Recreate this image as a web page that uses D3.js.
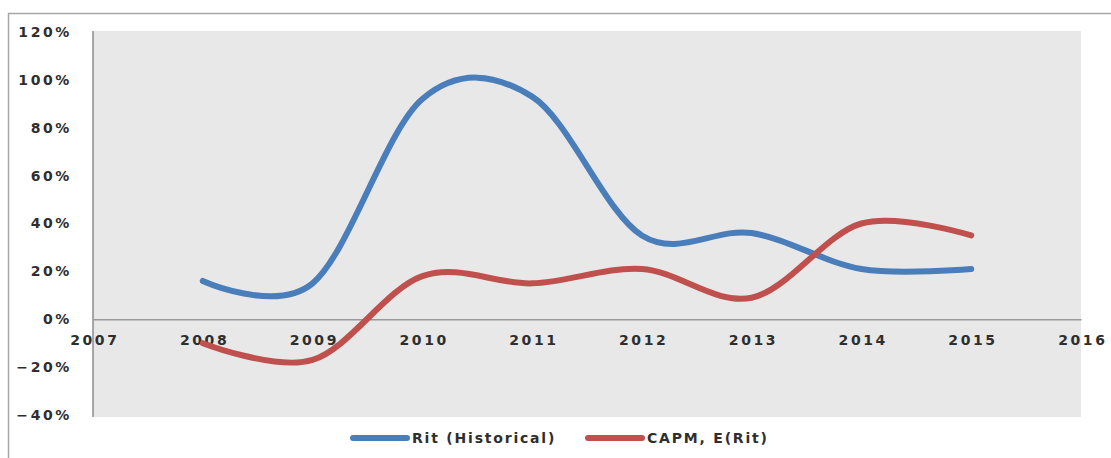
<!DOCTYPE html>
<html>
<head>
<meta charset="utf-8">
<script src="https://cdn.jsdelivr.net/npm/d3@7"></script>
<style>
  body { margin: 0; background: #fff; }
  svg text { font-family: "DejaVu Sans", Verdana, sans-serif; }
</style>
</head>
<body>
<svg id="chart" width="1111" height="458"></svg>
<script>
// data
var years = [2008, 2009, 2010, 2011, 2012, 2013, 2014, 2015];
var ritHistorical = [0.16, 0.15, 0.92, 0.93, 0.35, 0.36, 0.21, 0.21];
var capmExpected = [-0.10, -0.17, 0.18, 0.15, 0.21, 0.09, 0.40, 0.35];
var yTicks = [-0.4, -0.2, 0, 0.2, 0.4, 0.6, 0.8, 1.0, 1.2];
var xTicks = [2007, 2008, 2009, 2010, 2011, 2012, 2013, 2014, 2015, 2016];
var seriesNames = ["Rit (Historical)", "CAPM, E(Rit)"];
var seriesColors = ["#4a7ebb", "#c0504d"];

var svg = d3.select("#chart");
var plot = {left: 93, top: 31, right: 1081, bottom: 417};

var x = d3.scaleLinear().domain([2007, 2016]).range([plot.left, plot.right]);
var y = d3.scaleLinear().domain([-0.4, 1.2]).range([415, 32]);

// chart area border (top + left only visible)
svg.append("path")
    .attr("d", "M8.5,458 L8.5,13.5 L1111,13.5")
    .attr("fill", "none")
    .attr("stroke", "#a6a6a6")
    .attr("stroke-width", 1.5);

// plot background
svg.append("rect")
    .attr("x", plot.left).attr("y", plot.top)
    .attr("width", plot.right - plot.left).attr("height", plot.bottom - plot.top)
    .attr("fill", "#e8e8e8");

// y axis
var yAxis = svg.append("g")
    .attr("transform", "translate(" + plot.left + ",0)")
    .call(d3.axisLeft(y).tickValues(yTicks).tickFormat(d3.format(".0%")).tickSize(0).tickPadding(21));
yAxis.select(".domain").attr("stroke", "#8c8c8c").attr("stroke-width", 1.5)
    .attr("d", "M0," + plot.top + "V" + plot.bottom);
yAxis.selectAll("text")
    .attr("font-size", 14).attr("font-weight", "bold").attr("fill", "#2e2e2e")
    .attr("letter-spacing", 2.6);

// x axis on the zero line
var xAxis = svg.append("g")
    .attr("transform", "translate(0," + y(0) + ")")
    .call(d3.axisBottom(x).tickValues(xTicks).tickFormat(d3.format("d")).tickSize(0).tickPadding(16));
xAxis.select(".domain").attr("stroke", "#999").attr("stroke-width", 1.5);
xAxis.selectAll("text")
    .attr("font-size", 14).attr("font-weight", "bold").attr("fill", "#2e2e2e")
    .attr("letter-spacing", 2.6)
    .attr("dx", 1.3);

// smooth lines like Excel
var line = d3.line()
    .x(function(d) { return x(d[0]); })
    .y(function(d) { return y(d[1]); })
    .curve(d3.curveCardinal.tension(0));

[ritHistorical, capmExpected].forEach(function(vals, i) {
    svg.append("path")
        .datum(years.map(function(yr, j) { return [yr, vals[j]]; }))
        .attr("d", line)
        .attr("fill", "none")
        .attr("stroke", seriesColors[i])
        .attr("stroke-width", 6)
        .attr("stroke-linecap", "round")
        .attr("stroke-linejoin", "round");
});

// legend
var legendX = [353, 588];
seriesNames.forEach(function(name, i) {
    var g = svg.append("g").attr("transform", "translate(" + legendX[i] + ",438)");
    g.append("line")
        .attr("x1", 0).attr("x2", 54).attr("y1", 0).attr("y2", 0)
        .attr("stroke", seriesColors[i]).attr("stroke-width", 6)
        .attr("stroke-linecap", "round");
    g.append("text")
        .attr("x", 59).attr("y", 5)
        .attr("font-size", 14).attr("font-weight", "bold").attr("fill", "#2e2e2e")
        .attr("letter-spacing", 1.8)
        .text(name);
});
</script>
</body>
</html>
